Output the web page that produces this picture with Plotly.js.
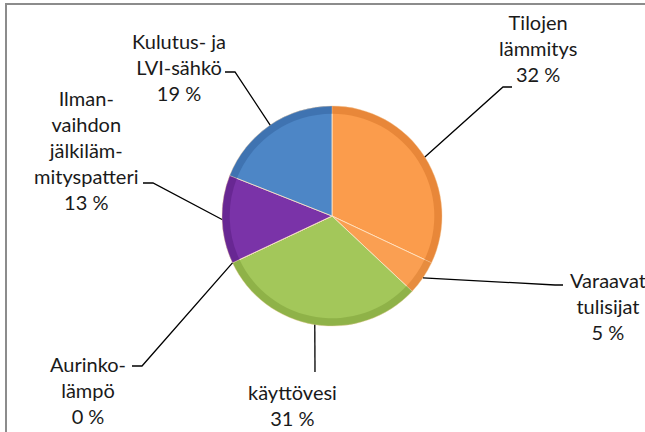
<!DOCTYPE html>
<html>
<head>
<meta charset="utf-8">
<script src="https://cdn.plot.ly/plotly-3.0.1.min.js"></script>
<style>html,body{margin:0;padding:0;background:#fff;}#chart{width:645px;height:432px;}</style>
</head>
<body>
<div id="chart"></div>
<script>
// ---- data ----
const categories = ["Tilojen lämmitys", "Varaavat tulisijat", "käyttövesi", "Aurinkolämpö", "Ilmanvaihdon jälkilämmityspatteri", "Kulutus- ja LVI-sähkö"];
const values = [32, 5, 31, 0, 13, 19];
const labelTexts = ["Tilojen<br>lämmitys", "Varaavat<br>tulisijat", "käyttövesi", "Aurinko-<br>lämpö", "Ilman-<br>vaihdon<br>jälkiläm-<br>mityspatteri", "Kulutus- ja<br>LVI-sähkö"];

// ---- styles / layout (pixels) ----
const W = 645, H = 432;
const CX = 332, CY = 216, R = 110;
const colors = ["#FB9C4C", "#FA9F52", "#A3C75A", "#E0E0E0", "#7A33A8", "#4D86C6"];
const rimColors = ["#D9772A", "#D97E30", "#7FA23A", "#C0C0C0", "#5A1F82", "#3565A0"];
const labelPos = [[538, 48], [608, 306], [292, 405], [88, 390], [86, 150], [179, 67]];
const elbows = [[[503, 87], [512, 87]], [[555, 285], [563, 285]], [[315, 372]], [[142, 366], [132, 366]], [[153, 183], [143, 183]], [[235, 72], [225, 72]]];

const px = x => x / W;
const py = y => 1 - y / H;

const total = values.reduce((a, b) => a + b, 0);
const shapes = [];
const annotations = [];
let cum = 0;
values.forEach((v, i) => {
  const mid = (cum + v / 2) / total * 2 * Math.PI;
  cum += v;
  const sx = CX + R * Math.sin(mid);
  const sy = CY - R * Math.cos(mid);
  let path = `M ${px(sx)},${py(sy)}`;
  elbows[i].forEach(p => { path += ` L ${px(p[0])},${py(p[1])}`; });
  shapes.push({type: "path", xref: "paper", yref: "paper", path: path, line: {color: "#000", width: 1.3}});
  annotations.push({
    xref: "paper", yref: "paper", x: px(labelPos[i][0]), y: py(labelPos[i][1]),
    xanchor: "center", yanchor: "middle", showarrow: false, align: "center",
    text: labelTexts[i] + "<br>" + v + " %",
    font: {family: "Lato, 'Open Sans', sans-serif", size: 20, color: "#1a1a1a"}
  });
});
shapes.push({type: "rect", xref: "paper", yref: "paper", x0: px(6), y0: py(4), x1: px(700), y1: py(480), line: {color: "#8c8c8c", width: 2}});

const dom = {x: [px(CX - R), px(CX + R)], y: [py(CY + R), py(CY - R)]};

const traces = [
  {type: "pie", labels: categories, values: values, sort: false, direction: "clockwise", rotation: 0,
   textinfo: "none", hoverinfo: "none", domain: dom,
   marker: {colors: colors, line: {color: "rgba(255,230,200,0.8)", width: 1}}},
  {type: "pie", labels: categories, values: values, sort: false, direction: "clockwise", rotation: 0,
   textinfo: "none", hoverinfo: "none", domain: dom, hole: 0.93, opacity: 0.55,
   marker: {colors: rimColors, line: {color: "rgba(255,255,255,0)", width: 0}}}
];

const layout = {
  width: W, height: H, margin: {l: 0, r: 0, t: 0, b: 0},
  paper_bgcolor: "#fff", plot_bgcolor: "#fff", showlegend: false,
  shapes: shapes, annotations: annotations
};
Plotly.newPlot("chart", traces, layout, {displayModeBar: false, staticPlot: true});
</script>
</body>
</html>
